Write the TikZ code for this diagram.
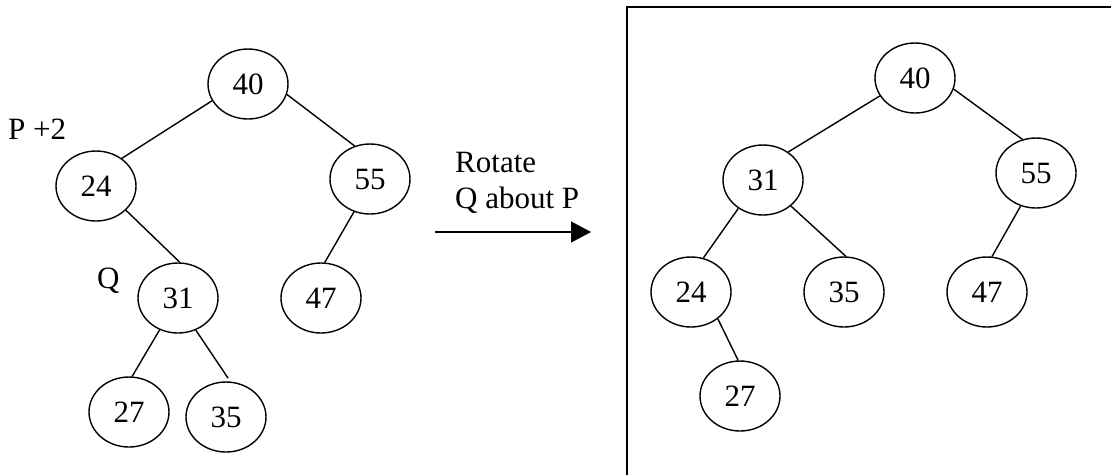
\documentclass[tikz,border=0pt]{standalone}
\usepackage{fontspec}
\setmainfont{Liberation Serif}
\usetikzlibrary{shapes.geometric,arrows.meta}
\begin{document}
\begin{tikzpicture}[x=1pt,y=-1pt,
  key/.style={draw,ellipse,line width=1.4pt,minimum width=80pt,minimum height=70pt,
    inner sep=0pt,font=\fontsize{31}{36}\selectfont},
  edge/.style={line width=1.4pt},
  lbl/.style={inner sep=0pt,anchor=base west,font=\fontsize{31}{36}\selectfont}]
\useasboundingbox (0,0) rectangle (1111,475);

% tree before the rotation
\node[key] (l40) at (248,84)  {40};
\node[key] (l24) at (96,186)  {24};
\node[key] (l55) at (370,179) {55};
\node[key] (l31) at (178,298) {31};
\node[key] (l47) at (321,298) {47};
\node[key] (l27) at (129,412) {27};
\node[key] (l35) at (226,417) {35};
\node[lbl] (p) at (8,139) {P +2};
\node[lbl] (q) at (97,288) {Q};

\draw[edge] (l40.205) -- (l24.47);
\draw[edge] (l40.-15) -- (l55.115);
\draw[edge] (l24.-39) -- (l31.87);
\draw[edge] (l55.244) -- (l47.84);
\draw[edge] (l31.240) -- (l27.85);
\draw[edge,shorten >=4pt] (l31.-61) -- (l35.83);

% rotation arrow and caption
\coordinate (a0) at (435,232);
\coordinate (a1) at (591,232);
\draw[edge,-{Triangle[length=20pt,width=21pt]}] (a0) -- (a1);
\node[lbl] (t1) at (455,172) {Rotate};
\node[lbl] (t2) at (455,208) {Q about P};

% frame around the result
\draw[line width=2.6pt,line join=miter] (1111,7) -- (627,7) -- (627,475);

% tree after the rotation
\node[key] (r40) at (915,78)  {40};
\node[key] (r31) at (763,180) {31};
\node[key] (r55) at (1036,173) {55};
\node[key] (r24) at (691,292) {24};
\node[key] (r35) at (844,292) {35};
\node[key] (r47) at (987,292) {47};
\node[key] (r27) at (740,396) {27};

\draw[edge] (r40.207) -- (r31.48);
\draw[edge] (r40.-16) -- (r55.112);
\draw[edge] (r31.229) -- (r24.70);
\draw[edge] (r31.-43) -- (r35.87);
\draw[edge] (r55.245) -- (r47.82);
\draw[edge] (r24.-45) -- (r27.93);
\end{tikzpicture}
\end{document}
